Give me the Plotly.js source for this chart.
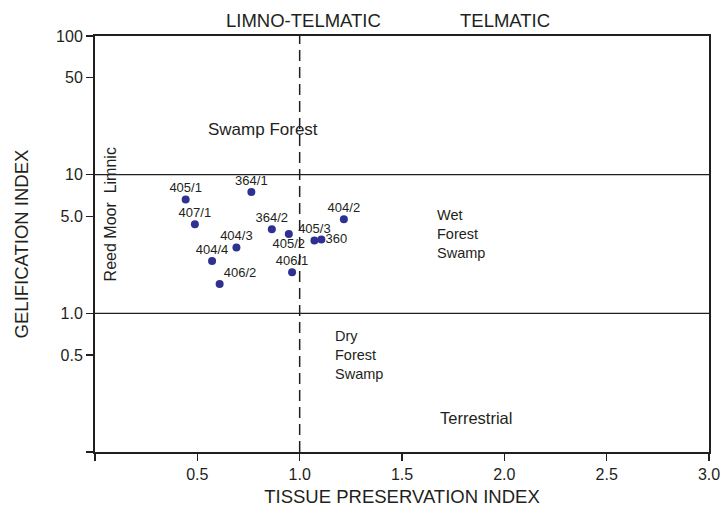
<!DOCTYPE html>
<html>
<head>
<meta charset="utf-8">
<script src="https://cdn.plot.ly/plotly-3.0.1.min.js"></script>
<style>html,body{margin:0;padding:0;background:#fff;}#chart{width:720px;height:507px;}</style>
</head>
<body>
<div id="chart"></div>
<script>
// Samples
const sampleLabels = ['405/1','364/1','407/1','364/2','405/2','404/3','404/4','406/2','406/1','405/3','360','404/2'];
const tpiValues    = [0.443, 0.764, 0.488, 0.864, 0.947, 0.691, 0.572, 0.609, 0.963, 1.072, 1.106, 1.216];
const giValues     = [6.61, 7.50, 4.39, 4.04, 3.74, 2.98, 2.38, 1.63, 1.98, 3.35, 3.41, 4.77];
const labelPositions = ['top center','top center','top center','top center','bottom center','top center','top center','top right','top center','top center','middle right','top center'];

// Axes
const xTickVals = [0, 0.5, 1.0, 1.5, 2.0, 2.5, 3.0];
const xTickText = ['', '0.5', '1.0', '1.5', '2.0', '2.5', '3.0'];
const yTickVals = [0.1, 0.5, 1, 5, 10, 50, 100];
const yTickText = ['', '0.5', '1.0', '5.0', '10', '50', '100'];

// Facies boundaries
const tpiBoundaries = [1.0];
const giBoundaries = [1, 10];

const FONT = 'Liberation Sans, Arial, Helvetica, sans-serif';
const TXT = '#231f20';

const markerTrace = {
  type: 'scatter',
  mode: 'markers',
  x: tpiValues,
  y: giValues,
  marker: {color: '#2e3192', size: 8},
  cliponaxis: false,
  hoverinfo: 'skip'
};
const labelTrace = {
  type: 'scatter',
  mode: 'markers+text',
  x: tpiValues,
  y: giValues,
  text: sampleLabels,
  textposition: labelPositions,
  textfont: {family: FONT, size: 13, color: TXT},
  marker: {size: 5, opacity: 0},
  cliponaxis: false,
  hoverinfo: 'skip'
};

const shapes = [];
tpiBoundaries.forEach(v => shapes.push({type:'line', xref:'x', yref:'paper', x0:v, x1:v, y0:0, y1:1, line:{color:'#231f20', width:1.5, dash:'11px,6px'}}));
giBoundaries.forEach(v => shapes.push({type:'line', xref:'paper', yref:'y', x0:0, x1:1, y0:v, y1:v, line:{color:'#231f20', width:1.3}}));

const regionFont = {family: FONT, size: 16.5, color: TXT};
const stackFont = {family: FONT, size: 14.5, color: TXT};
const topFont = {family: FONT, size: 18.5, color: TXT};
const annotations = [
  {text:'LIMNO-TELMATIC', xref:'paper', yref:'paper', x:0.3396, y:1.037, showarrow:false, xanchor:'center', yanchor:'middle', font:topFont},
  {text:'TELMATIC', xref:'paper', yref:'paper', x:0.668, y:1.037, showarrow:false, xanchor:'center', yanchor:'middle', font:topFont},
  {text:'Swamp Forest', xref:'paper', yref:'paper', x:0.273, y:0.776, showarrow:false, xanchor:'center', yanchor:'middle', font:{family:FONT, size:17, color:TXT}},
  {text:'Reed Moor  Limnic', xref:'paper', yref:'paper', x:0.025, y:0.572, showarrow:false, xanchor:'center', yanchor:'middle', textangle:-90, font:{family:FONT, size:16, color:TXT}},
  {text:'Wet<br>Forest<br>Swamp', xref:'paper', yref:'paper', x:0.554, y:0.524, showarrow:false, xanchor:'left', yanchor:'middle', align:'left', font:stackFont},
  {text:'Dry<br>Forest<br>Swamp', xref:'paper', yref:'paper', x:0.388, y:0.233, showarrow:false, xanchor:'left', yanchor:'middle', align:'left', font:stackFont},
  {text:'Terrestrial', xref:'paper', yref:'paper', x:0.6205, y:0.082, showarrow:false, xanchor:'center', yanchor:'middle', font:regionFont}
];

const layout = {
  width: 720, height: 507,
  margin: {l: 95, r: 11, t: 36, b: 55},
  paper_bgcolor: '#ffffff', plot_bgcolor: '#ffffff',
  showlegend: false,
  font: {family: FONT, color: TXT},
  xaxis: {
    range: [0, 3], tickvals: xTickVals, ticktext: xTickText,
    showgrid: false, zeroline: false,
    showline: true, mirror: true, linecolor: '#231f20', linewidth: 2,
    ticks: 'outside', ticklen: 7, tickwidth: 1.5, tickcolor: '#231f20',
    ticklabeloverflow: 'allow',
    tickfont: {family: FONT, size: 16, color: TXT},
    title: {text: 'TISSUE PRESERVATION INDEX', font: {family: FONT, size: 18.5, color: TXT}, standoff: 12}
  },
  yaxis: {
    type: 'log', range: [-1, 2], tickvals: yTickVals, ticktext: yTickText,
    showgrid: false, zeroline: false,
    showline: true, mirror: true, linecolor: '#231f20', linewidth: 2,
    ticks: 'outside', ticklen: 7, tickwidth: 1.5, tickcolor: '#231f20',
    tickfont: {family: FONT, size: 16, color: TXT},
    title: {text: 'GELIFICATION INDEX', font: {family: FONT, size: 18.5, color: TXT}, standoff: 23}
  },
  shapes: shapes,
  annotations: annotations
};

Plotly.newPlot('chart', [markerTrace, labelTrace], layout, {displayModeBar: false, staticPlot: true});
</script>
</body>
</html>
